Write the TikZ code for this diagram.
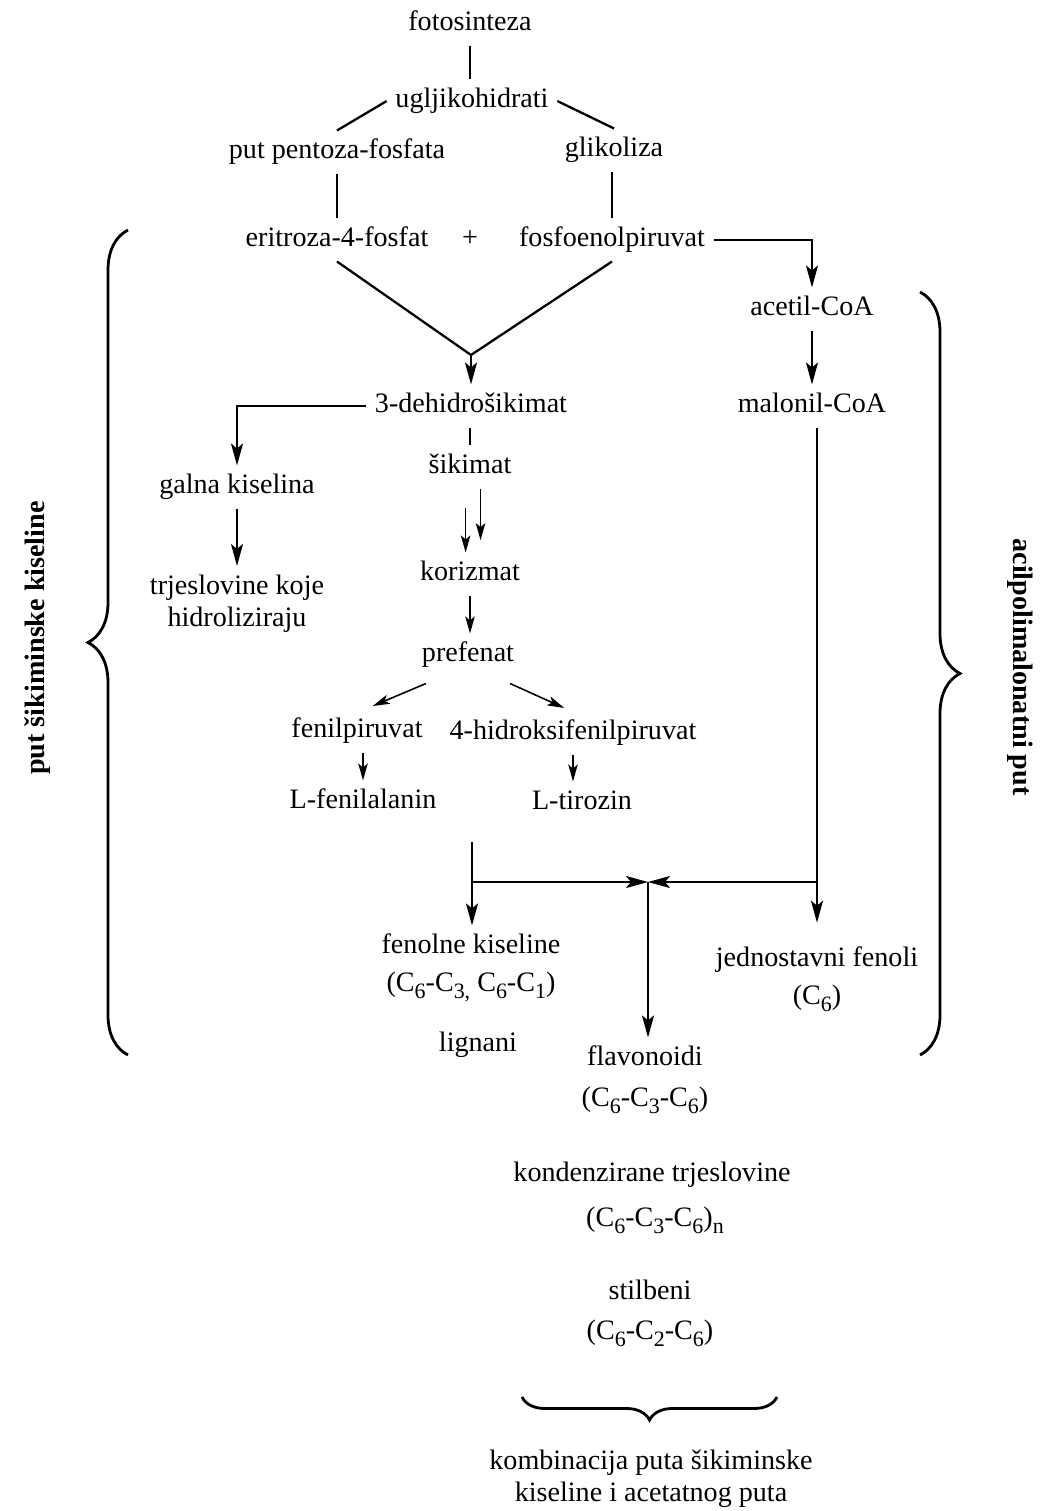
\documentclass[tikz,border=0pt]{standalone}
\usepackage{fontspec}
\setmainfont{Liberation Serif}
\usepackage{tikz}
\usetikzlibrary{arrows.meta,decorations.pathreplacing}
\newcommand{\csub}[1]{\raisebox{-0.55ex}{\fontsize{12.5}{12.5}\selectfont #1}}
\tikzset{
txt/.style = {font=\fontsize{16}{18.5}\selectfont, inner sep=2pt, outer sep=3pt},
stage/.style = {txt, text height=11pt, text depth=3.5pt}
}
\tikzset{
side/.style = {txt, font=\fontsize{16}{18.5}\selectfont\bfseries}
}
\tikzset{
conn/.style = {line width=1.3pt},
arw/.style = {conn, -{Stealth[length=4.4mm,width=2.4mm,inset=1mm]}},
tarw/.style = {line width=0.9pt, -{Stealth[length=3.4mm,width=1.9mm,inset=0.8mm]}},
curly/.style = {line width=1.6pt, decorate, decoration={brace,amplitude=#1}},
curly/.default = 0.8cm % height of the brace
}

\begin{document}
\begin{tikzpicture}[x=0.02cm, y=-0.02cm]
  \useasboundingbox (0,0) rectangle (1047,1511);
  % Stages
    \node[stage] (foto) at (470,24) {fotosinteza};
    \node[stage] (uglji) at (472,101) {ugljikohidrati};
    \node[stage] (pentoza) at (337,152) {put pentoza-fosfata};
    \node[stage] (gliko) at (614,150) {glikoliza};
    \node[stage] (eritroza) at (337,240) {eritroza-4-fosfat};
    \node[stage] (plus) at (470,240) {+};
    \node[stage] (fosfo) at (612,240) {fosfoenolpiruvat};
    \node[stage] (acetil) at (812,309) {acetil-CoA};
    \node[stage] (malonil) at (812,406) {malonil-CoA};
    \node[stage] (dehidro) at (471,406) {3-dehidrošikimat};
    \node[stage] (galna) at (237,487) {galna kiselina};
    \node[txt, align=center, anchor=north] (trjes) at (237,566) {trjeslovine koje\\hidroliziraju};
    \node[stage] (sikimat) at (470,467) {šikimat};
    \node[stage] (korizmat) at (470,574) {korizmat};
    \node[stage] (prefenat) at (468,655) {prefenat};
    \node[stage] (fenil) at (357,731) {fenilpiruvat};
    \node[stage] (hidroksi) at (573,733) {4-hidroksifenilpiruvat};
    \node[stage] (fenilal) at (363,802) {L-fenilalanin};
    \node[stage] (tirozin) at (582,803) {L-tirozin};

  % Products
    \node[stage] (fenolne) at (471,947) {fenolne kiseline};
    \node[stage] (fenolneF) at (471,985) {(C\csub{6}-C\csub{3,} C\csub{6}-C\csub{1})};
    \node[stage] (lignani) at (478,1045) {lignani};
    \node[stage] (flavo) at (645,1059) {flavonoidi};
    \node[stage] (flavoF) at (645,1100) {(C\csub{6}-C\csub{3}-C\csub{6})};
    \node[stage] (jedn) at (817,960) {jednostavni fenoli};
    \node[stage] (jednF) at (817,998) {(C\csub{6})};
    \node[stage] (kondenz) at (652,1175) {kondenzirane trjeslovine};
    \node[stage] (kondenzF) at (655,1220) {(C\csub{6}-C\csub{3}-C\csub{6})\csub{n}};
    \node[stage] (stilbeni) at (650,1293) {stilbeni};
    \node[stage] (stilbeniF) at (650,1333) {(C\csub{6}-C\csub{2}-C\csub{6})};
    \node[txt, align=center, anchor=north] (kombi) at (651,1441) {kombinacija puta šikiminske\\kiseline i acetatnog puta};

  % Side labels
    \node[side, rotate=90] (sikLbl) at (38,638) {put šikiminske kiseline};
    \node[side, rotate=-90] (acilLbl) at (1020,667) {acilpolimalonatni put};

  % Points
    \coordinate (vtip) at (471,355);
    \coordinate (aroma) at (472,842);
    \coordinate (ljoin) at (472,882);
    \coordinate (join) at (648,882);
    \coordinate (rjoin) at (817,882);
    \coordinate (lbBot) at (128,1055);
    \coordinate (lbTop) at (128,230);
    \coordinate (rbTop) at (920,292);
    \coordinate (rbBot) at (920,1055);
    \coordinate (bbRight) at (777,1397);
    \coordinate (bbLeft) at (522,1397);

  % Lines
    \draw[conn] (foto.south) -- (foto.south |- uglji.north);
    \draw[conn] (uglji.west) -- (pentoza.north);
    \draw[conn] (uglji.east) -- (gliko.north);
    \draw[conn] (pentoza.south) -- (eritroza.north);
    \draw[conn] (gliko.south -| fosfo.north) -- (fosfo.north);
    \draw[arw] (fosfo.east) -| (acetil.north);
    \draw[arw] (acetil.south) -- (malonil.north);
    \draw[conn] (eritroza.south) -- (vtip) -- (fosfo.south);
    \draw[arw] (vtip) -- (vtip |- dehidro.north);
    \draw[arw] (dehidro.west) -| (galna.north);
    \draw[arw] (galna.south) -- (trjes.north);
    \draw[conn] (dehidro.south -| sikimat.north) -- (sikimat.north);
    \draw[tarw] ([xshift=6pt]sikimat.south) -- ([xshift=6pt,yshift=7pt]korizmat.north);
    \draw[tarw] ([xshift=-2.5pt,yshift=-11pt]sikimat.south) -- ([xshift=-2.5pt]korizmat.north);
    \draw[tarw] (korizmat.south) -- (korizmat.south |- prefenat.north);
    \draw[tarw] ([xshift=-24pt,yshift=-4pt]prefenat.south) -- ([xshift=9pt,yshift=2pt]fenil.north);
    \draw[tarw] ([xshift=24pt,yshift=-4pt]prefenat.south) -- ([xshift=-5pt,yshift=2pt]hidroksi.north);
    \draw[tarw] (fenilal.north |- fenil.south) -- (fenilal.north);
    \draw[tarw] (hidroksi.south) -- (hidroksi.south |- tirozin.north);
    \draw[arw] (aroma) -- (aroma |- fenolne.north);
    \draw[arw] (ljoin) -- (join);
    \draw[conn] (jedn.north |- malonil.south) -- (rjoin);
    \draw[arw] (rjoin) -- (join);
    \draw[arw] (rjoin) -- ([yshift=9pt]jedn.north);
    \draw[arw] (join) -- (join |- flavo.north);

  % Braces
    \draw[curly] (lbBot) -- (lbTop);
    \draw[curly] (rbTop) -- (rbBot);
    \draw[curly=0.46cm] (bbRight) -- (bbLeft);
  \end{tikzpicture}
\end{document}
